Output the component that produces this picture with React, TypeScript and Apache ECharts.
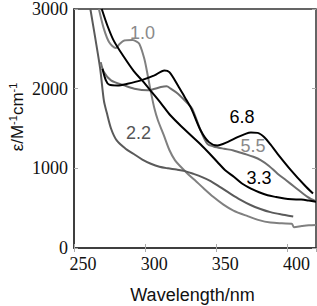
import React, { useEffect, useRef } from "react";
import * as echarts from "echarts";

// pH 1.0
const wl10 = [267.5, 271, 274.7, 279.4, 282, 285.3, 291, 294, 296, 299.4, 301.8, 304, 306.5, 309, 313, 317, 321, 325, 330, 335, 341, 348, 355, 362, 372, 380, 388, 396, 403, 404.5, 410, 415, 420];
const eps10 = [3000, 2750, 2583, 2510, 2560, 2604, 2610, 2590, 2560, 2375, 2166, 1958, 1750, 1600, 1420, 1230, 1100, 1020, 930, 850, 750, 640, 545, 470, 400, 350, 320, 310, 305, 262, 275, 285, 290];
// pH 2.2
const wl22 = [261.5, 264.8, 268.4, 271, 273, 276, 280, 286, 292, 298, 304, 310, 316, 322, 328, 334, 340, 346, 353, 360, 367, 374, 381, 388, 396, 404];
const eps22 = [3000, 2650, 2250, 1850, 1700, 1500, 1350, 1250, 1180, 1110, 1058, 1020, 1000, 985, 965, 930, 890, 840, 760, 680, 605, 540, 490, 450, 420, 395];
// pH 3.3
const wl33 = [269.5, 273.5, 278, 285, 292, 298, 305, 311, 318, 327, 333, 339, 345, 350.7, 356, 362.5, 368, 374.3, 380, 386, 392, 397.8, 403, 409.6, 415, 420];
const eps33 = [3000, 2790, 2600, 2400, 2220, 2100, 1950, 1820, 1660, 1500, 1400, 1300, 1190, 1080, 980, 891, 810, 746, 700, 662, 640, 621, 612, 608, 595, 580];
// pH 5.5
const wl55 = [268.8, 271, 276, 285.3, 292.4, 301.8, 306, 311, 315, 318, 323, 330, 333, 339, 343.7, 348, 355.4, 362, 369.6, 376, 381.4, 387, 393, 399, 405, 414, 420];
const eps55 = [2333, 2208, 2104, 2041, 2000, 1979, 1995, 2020, 2030, 2000, 1937, 1812, 1750, 1475, 1308, 1275, 1246, 1225, 1183, 1145, 1100, 1030, 933, 850, 766, 641, 585];
// pH 6.8
const wl68 = [270, 272.4, 274.7, 280.6, 287.6, 297, 306.5, 313.5, 317, 323, 327.7, 332.4, 339, 344.8, 350.7, 357.8, 364.9, 370, 374.3, 379, 383.7, 388, 393, 402.5, 412, 417.9];
const eps68 = [2250, 2104, 2050, 2040, 2062, 2104, 2166, 2229, 2208, 2041, 1896, 1750, 1475, 1329, 1287, 1329, 1391, 1430, 1450, 1445, 1391, 1300, 1183, 975, 787, 683];

const xTicks = [250, 300, 350, 400];
const yTicks = [0, 1000, 2000, 3000];

const seriesDefs = [
  { name: "1.0", wl: wl10, eps: eps10, color: "#808080" },
  { name: "2.2", wl: wl22, eps: eps22, color: "#5a5a5a" },
  { name: "5.5", wl: wl55, eps: eps55, color: "#6e6e6e" },
  { name: "3.3", wl: wl33, eps: eps33, color: "#000000" },
  { name: "6.8", wl: wl68, eps: eps68, color: "#000000" },
];

const labelDefs = [
  { text: "1.0", x: 142.5, y: 33, color: "#8a8a8a" },
  { text: "2.2", x: 138.5, y: 133, color: "#555555" },
  { text: "6.8", x: 242, y: 117, color: "#000000" },
  { text: "5.5", x: 253, y: 146, color: "#8a8a8a" },
  { text: "3.3", x: 259, y: 178, color: "#000000" },
];

export default function App() {
  const ref = useRef<HTMLDivElement>(null);
  useEffect(() => {
    if (!ref.current) return;
    const chart = echarts.init(ref.current, undefined, { renderer: "svg" });
    const serif = "'Liberation Serif', 'Times New Roman', serif";
    const sans = "'Liberation Sans', Arial, sans-serif";
    const fmtX = (v: number) => (xTicks.includes(v) ? String(v) : "");
    const fmtY = (v: number) => (yTicks.includes(v) ? String(v) : "");
    chart.setOption({
      animation: false,
      grid: {
        left: 74, top: 8, right: 1, bottom: 58,
        show: true, borderColor: "#333", borderWidth: 1.5, backgroundColor: "transparent",
      },
      xAxis: [
        {
          type: "value", min: 250, max: 420, interval: 50,
          axisLine: { show: true, lineStyle: { color: "#333", width: 1.5 } },
          axisTick: { show: true, inside: true, length: 4, lineStyle: { color: "#aaa", width: 1 } },
          axisLabel: { formatter: fmtX, fontFamily: serif, fontSize: 18, color: "#111", margin: 7, padding: [0, 0, 0, 18], showMaxLabel: false },
          splitLine: { show: false },
        },
        {
          type: "value", min: 250, max: 420, interval: 50, position: "top",
          axisLine: { show: false },
          axisTick: { show: true, inside: true, length: 4, lineStyle: { color: "#aaa", width: 1 } },
          axisLabel: { show: false },
          splitLine: { show: false },
        },
      ],
      yAxis: [
        {
          type: "value", min: 0, max: 3000, interval: 1000,
          axisLine: { show: true, lineStyle: { color: "#333", width: 1.5 } },
          axisTick: { show: true, inside: true, length: 4, lineStyle: { color: "#aaa", width: 1 } },
          axisLabel: { formatter: fmtY, fontFamily: serif, fontSize: 18, color: "#111", margin: 6 },
          splitLine: { show: false },
        },
        {
          type: "value", min: 0, max: 3000, interval: 1000, position: "right",
          axisLine: { show: false },
          axisTick: { show: true, inside: true, length: 4, lineStyle: { color: "#aaa", width: 1 } },
          axisLabel: { show: false },
          splitLine: { show: false },
        },
      ],
      series: seriesDefs.map((s) => ({
        type: "line",
        name: s.name,
        data: s.wl.map((w, i) => [w, s.eps[i]]),
        showSymbol: false,
        smooth: 0.3,
        clip: true,
        lineStyle: { color: s.color, width: 2 },
      })),
      graphic: [
        ...labelDefs.map((l) => ({
          type: "text", x: l.x, y: l.y,
          style: { text: l.text, fill: l.color, font: `18px ${sans}`, textAlign: "center", textVerticalAlign: "middle" },
        })),
        {
          type: "text", x: 192.5, y: 295,
          style: { text: "Wavelength/nm", fill: "#111", font: `18px ${sans}`, textAlign: "center", textVerticalAlign: "middle" },
        },
        {
          type: "text", x: 17, y: 117, rotation: Math.PI / 2,
          style: {
            text: "{a|ε/M}{s|-1}{a|cm}{s|-1}",
            textAlign: "center", textVerticalAlign: "middle",
            rich: {
              a: { fontFamily: sans, fontSize: 17, fill: "#111", lineHeight: 20 },
              s: { fontFamily: sans, fontSize: 11, fill: "#111", verticalAlign: "top", lineHeight: 20 },
            },
          },
        },
      ],
    });
    return () => chart.dispose();
  }, []);
  return <div ref={ref} style={{ position: "absolute", left: 0, top: 0, width: 317, height: 306 }} />;
}
